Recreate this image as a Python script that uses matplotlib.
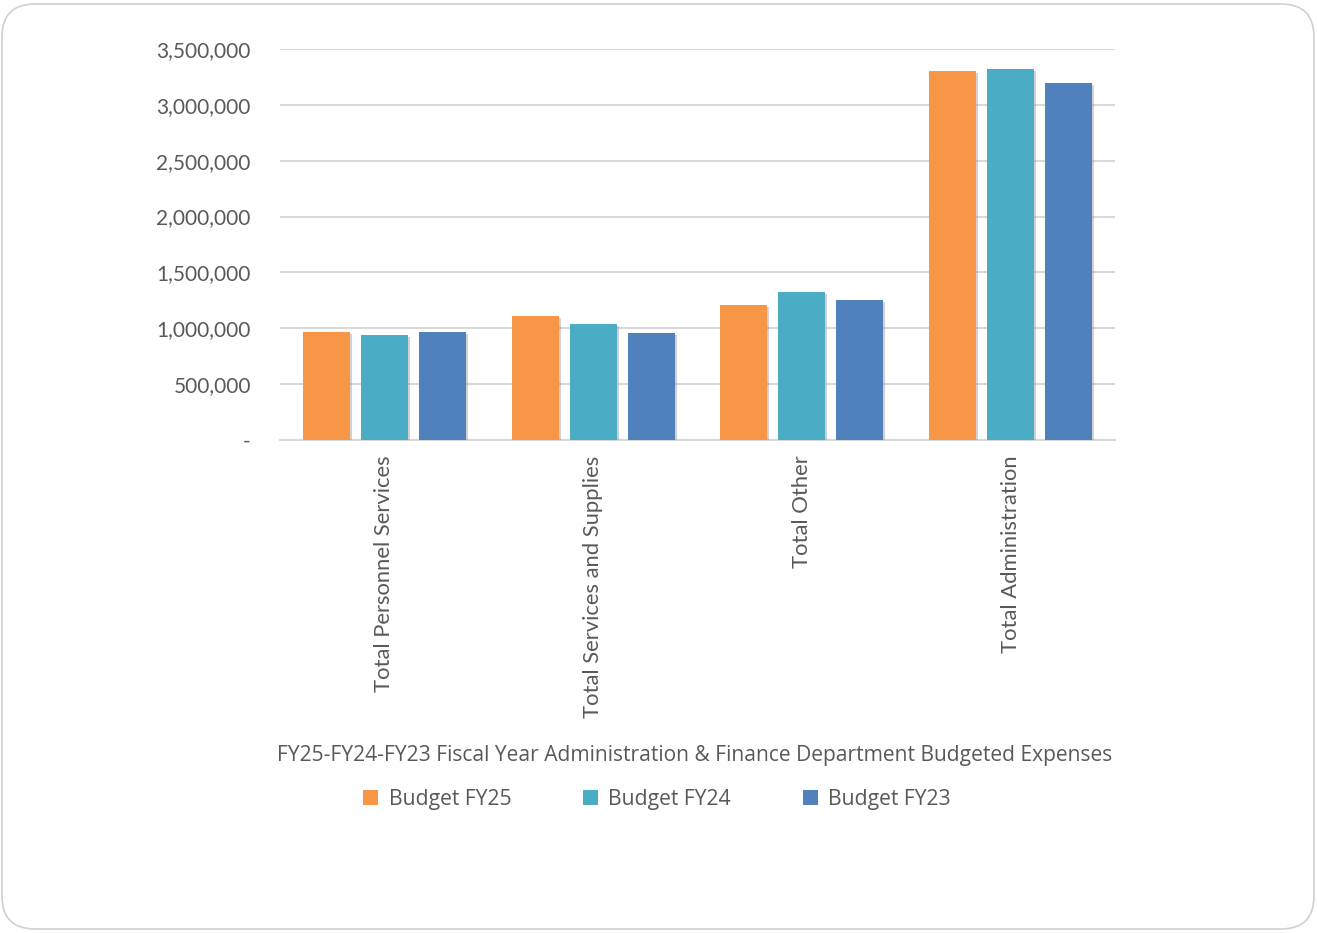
import matplotlib
matplotlib.use("Agg")
import matplotlib.pyplot as plt
import matplotlib.patheffects as pe
import numpy as np
from matplotlib.patches import FancyBboxPatch
from matplotlib.ticker import FuncFormatter

categories = ["Total Personnel Services", "Total Services and Supplies", "Total Other", "Total Administration"]
series_names = ["Budget FY25", "Budget FY24", "Budget FY23"]
budget_fy25 = [970000, 1110000, 1210000, 3305000]
budget_fy24 = [940000, 1042000, 1322000, 3322000]
budget_fy23 = [970000, 962000, 1253000, 3200000]
colors = ["#F79646", "#4BACC6", "#4F81BD"]
title = "FY25-FY24-FY23 Fiscal Year Administration & Finance Department Budgeted Expenses"

fig = plt.figure(figsize=(13.17, 9.33), dpi=100, facecolor="white")
border = FancyBboxPatch((2 / 1317, 4 / 933), 1312 / 1317, 925 / 933,
                        boxstyle="round,pad=0,rounding_size=0.025",
                        transform=fig.transFigure, facecolor="none",
                        edgecolor="#d0d0d0", linewidth=1.2, mutation_aspect=1317 / 933,
                        zorder=-1)
fig.patches.append(border)

ax = fig.add_axes([280 / 1317, 1 - 440 / 933, 835 / 1317, 391 / 933])
ax.set_facecolor("none")

x = np.arange(len(categories))
width = 0.225
step = 0.278
shadow = [pe.SimplePatchShadow(offset=(1.5, -1.5), shadow_rgbFace="#808080", alpha=0.35), pe.Normal()]
bars = []
for i, (vals, col, name) in enumerate(zip([budget_fy25, budget_fy24, budget_fy23], colors, series_names)):
    b = ax.bar(x + (i - 1) * step, vals, width, color=col, label=name, zorder=3)
    for p in b:
        p.set_path_effects(shadow)
    bars.append(b)

ax.set_xlim(-0.5, len(categories) - 0.5)
ax.set_ylim(0, 3500000)
ax.set_yticks(np.arange(0, 3500001, 500000))
ax.yaxis.set_major_formatter(FuncFormatter(lambda v, _: "-" if v == 0 else f"{int(v):,}"))
ax.grid(axis="y", color="#d9d9d9", linewidth=1.5, zorder=0)
for s in ["top", "right", "left"]:
    ax.spines[s].set_visible(False)
ax.spines["bottom"].set_color("#d9d9d9")
ax.spines["bottom"].set_linewidth(1.5)
ax.tick_params(axis="y", length=0, pad=21, labelsize=15, labelcolor="#595959")
ax.tick_params(axis="x", length=0, pad=11, labelsize=15.8, labelcolor="#595959")
for lbl in ax.get_yticklabels():
    lbl.set_family("Lato")
ax.set_xticks(x)
ax.set_xticklabels(categories, rotation=90, va="top", ha="center", family="Lato")

fig.text(695 / 1317, 1 - 756 / 933, title, ha="center", va="center",
         fontsize=15.1, color="#595959", family="Open Sans")
leg = fig.legend(handles=bars, labels=series_names, loc="center", ncol=3,
                 bbox_to_anchor=(657 / 1317, 1 - 799 / 933), frameon=False,
                 prop={"family": "Open Sans", "size": 15.2}, handlelength=0.7,
                 handleheight=0.7, handletextpad=0.5, columnspacing=3.4)
for t in leg.get_texts():
    t.set_color("#595959")
for h in leg.legend_handles:
    h.set_path_effects([])

fig.savefig("out.png", dpi=100)
